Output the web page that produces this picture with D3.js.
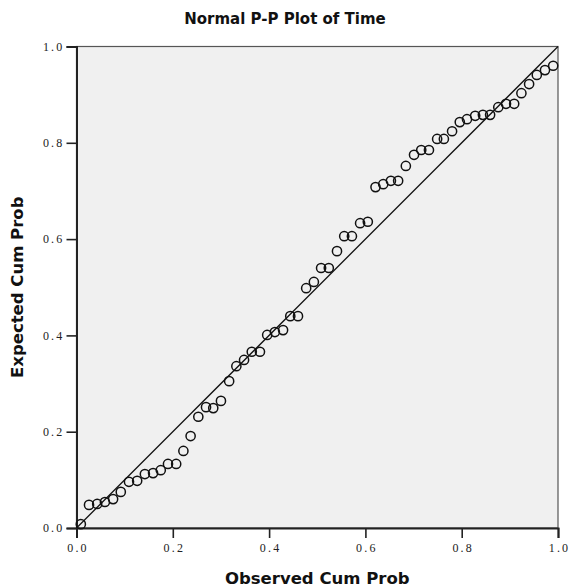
<!DOCTYPE html>
<html>
<head>
<meta charset="utf-8">
<script src="https://cdn.jsdelivr.net/npm/d3@7"></script>
<style>
  html, body { margin: 0; padding: 0; background: #fff; }
  svg { display: block; }
</style>
</head>
<body>
<svg id="chart" width="570" height="588"></svg>
<script>
// Observed vs expected cumulative probabilities for Time
const observedCumProb = [
  0.009, 0.026, 0.043, 0.059, 0.076, 0.092, 0.109, 0.126, 0.142, 0.159,
  0.175, 0.190, 0.207, 0.222, 0.237, 0.253, 0.269, 0.284, 0.300, 0.317,
  0.332, 0.348, 0.364, 0.381, 0.396, 0.412, 0.429, 0.444, 0.460, 0.477,
  0.493, 0.508, 0.524, 0.541, 0.556, 0.572, 0.589, 0.605, 0.621, 0.637,
  0.653, 0.668, 0.684, 0.701, 0.716, 0.732, 0.749, 0.763, 0.780, 0.796,
  0.811, 0.828, 0.844, 0.859, 0.876, 0.892, 0.909, 0.924, 0.940, 0.956,
  0.973, 0.990
];
const expectedCumProb = [
  0.008, 0.048, 0.050, 0.054, 0.060, 0.075, 0.096, 0.098, 0.112, 0.114,
  0.120, 0.133, 0.133, 0.160, 0.191, 0.231, 0.251, 0.249, 0.264, 0.305,
  0.336, 0.349, 0.366, 0.366, 0.401, 0.407, 0.411, 0.440, 0.440, 0.498,
  0.511, 0.540, 0.540, 0.575, 0.606, 0.606, 0.633, 0.636, 0.708, 0.714,
  0.721, 0.721, 0.752, 0.775, 0.785, 0.785, 0.808, 0.808, 0.824, 0.843,
  0.849, 0.856, 0.858, 0.858, 0.874, 0.881, 0.881, 0.903, 0.922, 0.941,
  0.951, 0.960
];
const tickValues = [0.0, 0.2, 0.4, 0.6, 0.8, 1.0];
const chartTitle = "Normal P-P Plot of Time";
const xTitle = "Observed Cum Prob";
const yTitle = "Expected Cum Prob";

const points = observedCumProb.map((x, i) => ({ x, y: expectedCumProb[i] }));

const width = 570;
const svg = d3.select("#chart");
const plotLeft = 76.5, plotRight = 558, plotTop = 46.5, plotBottom = 528;

const x = d3.scaleLinear().domain([0, 1]).range([plotLeft, plotRight]);
const y = d3.scaleLinear().domain([0, 1]).range([plotBottom, plotTop]);

// plot area
svg.append("rect")
  .attr("x", plotLeft).attr("y", plotTop)
  .attr("width", plotRight - plotLeft).attr("height", plotBottom - plotTop)
  .attr("fill", "#f0f0f0")
  .attr("stroke", "#555").attr("stroke-width", 1.2);

const tickFont = "'Liberation Serif', 'DejaVu Serif', serif";

// x axis
const xAxis = svg.append("g")
  .attr("transform", `translate(0,${plotBottom})`)
  .call(d3.axisBottom(x).tickValues(tickValues).tickFormat(d3.format(".1f"))
    .tickSize(10).tickPadding(5));
xAxis.select(".domain").attr("stroke", "#222").attr("stroke-width", 2);
xAxis.selectAll(".tick line").attr("stroke", "#222").attr("stroke-width", 1.6);
xAxis.selectAll(".tick text")
  .attr("font-family", tickFont).attr("font-size", 12)
  .attr("letter-spacing", "2.2px").attr("dx", "1px").attr("fill", "#222");

// y axis
const yAxis = svg.append("g")
  .attr("transform", `translate(${plotLeft},0)`)
  .call(d3.axisLeft(y).tickValues(tickValues).tickFormat(d3.format(".1f"))
    .tickSize(10).tickPadding(2));
yAxis.select(".domain").attr("stroke", "#222").attr("stroke-width", 2);
yAxis.selectAll(".tick line").attr("stroke", "#222").attr("stroke-width", 1.6);
yAxis.selectAll(".tick text")
  .attr("font-family", tickFont).attr("font-size", 12)
  .attr("letter-spacing", "2.2px").attr("fill", "#222");

// reference diagonal
svg.append("line")
  .attr("x1", x(0)).attr("y1", y(0))
  .attr("x2", x(1)).attr("y2", y(1))
  .attr("stroke", "#111").attr("stroke-width", 1.3);

// points
svg.append("g").selectAll("circle")
  .data(points)
  .join("circle")
  .attr("cx", d => x(d.x))
  .attr("cy", d => y(d.y))
  .attr("r", 4.6)
  .attr("fill", "none")
  .attr("stroke", "#111")
  .attr("stroke-width", 1.5);

const titleFont = "'DejaVu Sans', Verdana, sans-serif";

svg.append("text")
  .attr("x", width / 2).attr("y", 24)
  .attr("text-anchor", "middle")
  .attr("font-family", titleFont).attr("font-weight", "bold")
  .attr("font-size", 15).attr("fill", "#111")
  .text(chartTitle);

svg.append("text")
  .attr("x", (plotLeft + plotRight) / 2).attr("y", 584)
  .attr("text-anchor", "middle")
  .attr("font-family", titleFont).attr("font-weight", "bold")
  .attr("font-size", 16.5).attr("fill", "#111")
  .text(xTitle);

svg.append("text")
  .attr("transform", `translate(23,${(plotTop + plotBottom) / 2}) rotate(-90)`)
  .attr("text-anchor", "middle")
  .attr("font-family", titleFont).attr("font-weight", "bold")
  .attr("font-size", 16.5).attr("fill", "#111")
  .text(yTitle);
</script>
</body>
</html>
